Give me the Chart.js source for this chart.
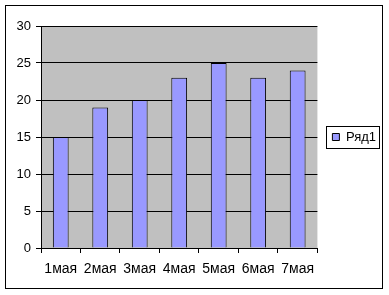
<!DOCTYPE html>
<html>
<head>
<meta charset="utf-8">
<script src="https://cdn.jsdelivr.net/npm/chart.js@4/dist/chart.umd.min.js"></script>
<style>
  html, body { margin: 0; padding: 0; background: #fff; }
  #wrap { width: 389px; height: 295px; }
</style>
</head>
<body>
<div id="wrap"><canvas id="myChart" width="389" height="295"></canvas></div>
<script>
const categories = ['1мая', '2мая', '3мая', '4мая', '5мая', '6мая', '7мая'];
const seriesName = 'Ряд1';
const values = [15, 19, 20, 23, 25, 23, 24];
const yTicks = [0, 5, 10, 15, 20, 25, 30];

Chart.defaults.font.family = '"Liberation Sans", Arial, sans-serif';
Chart.defaults.font.size = 13;
Chart.defaults.color = '#000';

// grey plot area, outer frame and legend frame (old Excel look)
const excelLook = {
    id: 'excelLook',
    beforeDraw(chart) {
        const c = chart.ctx;
        const a = chart.chartArea;
        c.save();
        c.fillStyle = '#fff';
        c.fillRect(0, 0, chart.width, chart.height);
        c.fillStyle = '#c0c0c0';
        c.fillRect(a.left, a.top, a.right - a.left, a.bottom - a.top);
        c.restore();
    },
    afterDraw(chart) {
        const c = chart.ctx;
        c.save();
        c.strokeStyle = '#000';
        c.lineWidth = 1;
        c.strokeRect(5.5, 5.5, 377, 283);
        const hb = chart.legend.legendHitBoxes[0];
        if (hb) {
            const cy = Math.round(hb.top + hb.height / 2);
            c.strokeRect(Math.round(hb.left) - 5.5, cy - 10.5, Math.round(hb.width) + 9, 22);
        }
        c.restore();
    }
};

const ctx = document.getElementById('myChart');
const myChart = new Chart(ctx, {
    type: 'bar',
    data: {
        labels: categories,
        datasets: [{
            label: seriesName,
            data: values,
            backgroundColor: '#9999ff',
            borderColor: '#000',
            borderWidth: 1,
            barPercentage: 0.4,
            categoryPercentage: 1
        }]
    },
    options: {
        responsive: false,
        animation: false,
        events: [],
        layout: {
            padding: { top: 26, right: 3, bottom: 0, left: 0 }
        },
        plugins: {
            tooltip: { enabled: false },
            legend: {
                position: 'right',
                fullSize: false,
                labels: {
                    boxWidth: 7,
                    boxHeight: 7,
                    padding: 15,
                    font: { size: 13 }
                }
            }
        },
        scales: {
            x: {
                grid: {
                    offset: true,
                    drawOnChartArea: false,
                    drawTicks: true,
                    tickLength: 5,
                    color: '#000'
                },
                border: { display: true, color: '#000' },
                ticks: { padding: 8, maxRotation: 0, font: { size: 14 } },
                afterFit(scale) { scale.height = 47; }
            },
            y: {
                min: 0,
                max: 30,
                afterBuildTicks(scale) {
                    scale.ticks = yTicks.map(v => ({ value: v }));
                },
                grid: {
                    color: '#000',
                    tickLength: 5
                },
                border: { display: true, color: '#000' },
                ticks: { padding: 5 },
                afterFit(scale) { scale.width = 41; }
            }
        }
    },
    plugins: [excelLook]
});
</script>
</body>
</html>
